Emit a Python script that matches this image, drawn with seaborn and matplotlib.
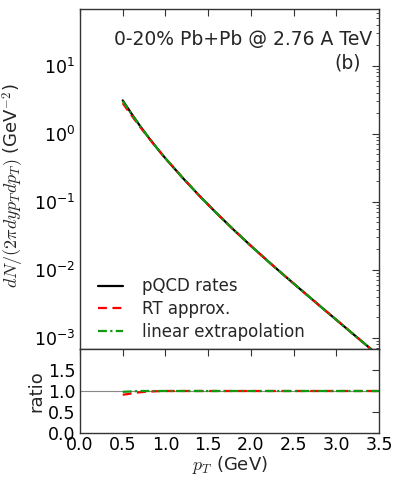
import numpy as np
import pandas as pd
import matplotlib
matplotlib.use("Agg")
import matplotlib.pyplot as plt
import seaborn as sns
from matplotlib.ticker import LogLocator, MultipleLocator, FixedLocator

# ---- data ----
pt = [0.5, 0.6, 0.7, 0.8, 0.9, 1.0, 1.2, 1.4, 1.6, 1.8, 2.0, 2.2, 2.4, 2.6, 2.8, 3.0, 3.2, 3.4, 3.5]
pqcd = [3.08, 1.99, 1.31, 0.887, 0.614, 0.433, 0.225, 0.121, 0.0673, 0.0384, 0.0224,
        0.0133, 0.00802, 0.00488, 0.00298, 0.00183, 0.00112, 0.000689, 0.000540]
ratio_rt = [0.91, 0.94, 0.97, 0.985, 0.995, 1.0, 1.0, 1.0, 1.0, 1.0, 1.0,
            1.0, 1.0, 1.0, 1.0, 1.0, 1.0, 1.0, 1.0]
ratio_lin = [0.98, 0.99, 1.0, 1.0, 1.0, 1.0, 1.0, 1.0, 1.0, 1.0, 1.0,
             1.0, 1.0, 1.0, 1.0, 1.0, 1.0, 1.0, 1.0]
labels = ["pQCD rates", "RT approx.", "linear extrapolation"]
title_text = "0-20% Pb+Pb @ 2.76 A TeV"
panel = "(b)"

rt = [p * r for p, r in zip(pqcd, ratio_rt)]
lin = [p * r for p, r in zip(pqcd, ratio_lin)]

df_main = pd.DataFrame({"pt": pt * 3, "val": pqcd + rt + lin,
                        "series": [labels[0]] * len(pt) + [labels[1]] * len(pt) + [labels[2]] * len(pt)})
df_ratio = pd.DataFrame({"pt": pt * 2, "val": ratio_rt + ratio_lin,
                         "series": [labels[1]] * len(pt) + [labels[2]] * len(pt)})

sns.set_style("white")
plt.rcParams["font.family"] = ["DejaVu Sans"]
plt.rcParams["mathtext.fontset"] = "cm"
plt.rcParams["xtick.direction"] = "in"
plt.rcParams["ytick.direction"] = "in"

palette = {labels[0]: "black", labels[1]: "#ff0000", labels[2]: "#119a11"}
styles = {labels[0]: "-", labels[1]: (0, (4, 2.5)), labels[2]: (0, (4, 1.5, 1, 1.5))}

fig = plt.figure(figsize=(3.99, 4.82), dpi=100)
ax = fig.add_axes([0.2005, 0.2759, 0.7494, 0.7054])
axr = fig.add_axes([0.2005, 0.1017, 0.7494, 0.1742], sharex=ax)

for name in labels:
    sub = df_main[df_main.series == name]
    sns.lineplot(data=sub, x="pt", y="val", ax=ax, color=palette[name],
                 linestyle=styles[name], linewidth=1.6, label=name)
ax.set_yscale("log")
ax.set_ylim(6.8e-4, 68)
ax.set_xlim(0, 3.5)

axr.axhline(1.0, color="#888888", linewidth=0.8)
for name in labels[1:]:
    sub = df_ratio[df_ratio.series == name]
    sns.lineplot(data=sub, x="pt", y="val", ax=axr, color=palette[name],
                 linestyle=styles[name], linewidth=1.6, legend=False)
axr.set_ylim(0, 2)
axr.yaxis.set_major_locator(FixedLocator([0.0, 0.5, 1.0, 1.5]))
axr.xaxis.set_major_locator(MultipleLocator(0.5))

tfs = 12.5
lfs = 13
for a in (ax, axr):
    for s in a.spines.values():
        s.set_color("#333333")
        s.set_linewidth(1.0)
    a.tick_params(which="both", direction="in", top=True, right=True,
                  labelsize=tfs, colors="#333333", labelcolor="black")
    a.tick_params(which="major", length=5, width=0.8)
    a.tick_params(which="minor", length=2.5, width=0.6)

ax.yaxis.set_major_locator(LogLocator(base=10))
ax.yaxis.set_minor_locator(LogLocator(base=10, subs=np.arange(2, 10)))
ax.tick_params(axis="x", labelbottom=False)
ax.set_xlabel("")
ax.set_ylabel(r"$dN/(2\pi dyp_Tdp_T)$ (GeV$^{-2}$)", fontsize=lfs)
axr.set_ylabel("ratio", fontsize=lfs)
axr.set_xlabel(r"$p_T$ (GeV)", fontsize=lfs, labelpad=0)
axr.tick_params(axis="x", pad=2.5)
ax.yaxis.set_label_coords(-0.18, 0.48)
axr.yaxis.set_label_coords(-0.117, 0.5)

ax.text(0.977, 0.909, title_text, transform=ax.transAxes, ha="right", va="center", fontsize=13.5)
ax.text(0.94, 0.841, panel, transform=ax.transAxes, ha="right", va="center", fontsize=13.5)

leg = ax.legend(loc="lower left", frameon=False, fontsize=12, handlelength=1.5,
                handletextpad=1.14, labelspacing=0.28, borderaxespad=0.1,
                bbox_to_anchor=(0.033, 0.0))

fig.savefig("out.png", dpi=100)
